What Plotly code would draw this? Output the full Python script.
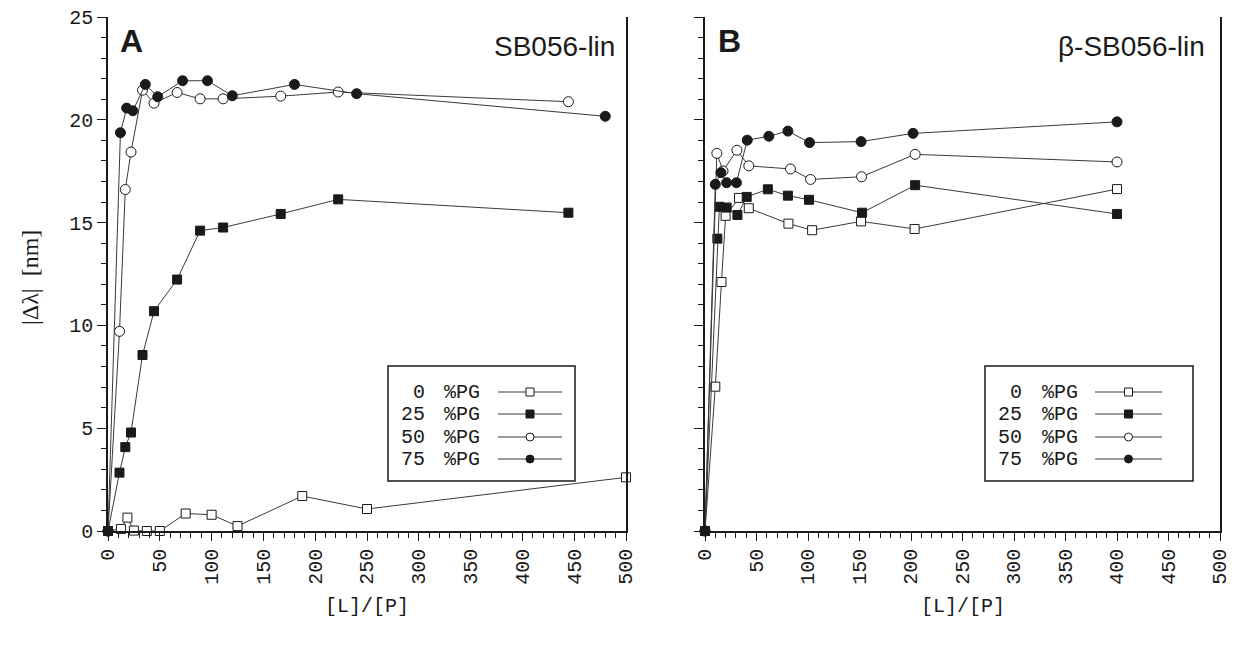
import plotly.graph_objects as go

# Page is 1235x645; the browser body adds an 8 px margin, so the figure is
# offset by 8 px and all layout positions are given in page pixels.
W, H = 1235, 645
OFF = 8
FW, FH = W - OFF, H - 2 * OFF

# ---------------- data ----------------
series_labels = ["0", "25", "50", "75"]

# Panel A : SB056-lin
x0A = [0, 12.5, 18.75, 25, 37.5, 50, 75, 100, 125, 187.5, 250, 500]
y0A = [0, 0.1, 0.65, 0.02, 0.0, 0.0, 0.85, 0.79, 0.24, 1.70, 1.07, 2.61]
x25A = [0, 11.1, 16.7, 22.2, 33.3, 44.4, 66.7, 88.9, 111.1, 166.7, 222.2, 444.4]
y25A = [0, 2.84, 4.08, 4.79, 8.56, 10.69, 12.23, 14.61, 14.76, 15.42, 16.13, 15.48]
x50A = [0, 11.1, 16.7, 22.2, 33.3, 44.4, 66.7, 88.9, 111.1, 166.7, 222.2, 444.4]
y50A = [0, 9.71, 16.61, 18.43, 21.44, 20.81, 21.33, 21.02, 21.02, 21.15, 21.35, 20.88]
x75A = [0, 12, 18, 24, 36, 48, 72, 96, 120, 180, 240, 480]
y75A = [0, 19.37, 20.57, 20.44, 21.72, 21.12, 21.9, 21.9, 21.17, 21.72, 21.27, 20.17]

# Panel B : beta-SB056-lin
x0B = [0, 10, 16, 20, 33, 42.5, 81, 104, 151.5, 203.5, 400]
y0B = [0, 7.02, 12.11, 15.33, 16.2, 15.7, 14.95, 14.63, 15.06, 14.69, 16.63]
x25B = [0, 12, 14, 21, 31.5, 40.5, 61, 80.5, 101, 152.5, 204, 400]
y25B = [0, 14.22, 15.77, 15.73, 15.37, 16.25, 16.62, 16.31, 16.11, 15.48, 16.82, 15.42]
x50B = [0, 11.5, 17.5, 31, 42.5, 83, 102.5, 152, 204, 400]
y50B = [0, 18.37, 17.51, 18.52, 17.76, 17.61, 17.1, 17.23, 18.32, 17.95]
x75B = [0, 10, 15.5, 21, 30.5, 41, 62, 80.5, 101.5, 151.5, 202, 400]
y75B = [0, 16.86, 17.43, 16.94, 16.94, 19.01, 19.2, 19.45, 18.89, 18.94, 19.34, 19.9]

x_ticks = [0, 50, 100, 150, 200, 250, 300, 350, 400, 450, 500]
y_ticks = [0, 5, 10, 15, 20, 25]

# ---------------- styles ----------------
MONO = "Liberation Mono, Courier New, monospace"
SANS = "Liberation Sans, Arial, sans-serif"
SERIF = "Liberation Serif, Times New Roman, serif"
INK = "#1a1a1a"
LINE = "#3a3a3a"

styles = [
    dict(symbol="square", color="white", size=9),
    dict(symbol="square", color=INK, size=9),
    dict(symbol="circle", color="white", size=10),
    dict(symbol="circle", color=INK, size=10),
]


def px(x):
    return (x - OFF) / FW


def py(y):
    return 1 - (y - OFF) / FH


fig = go.Figure()

panelA = [(x0A, y0A), (x25A, y25A), (x50A, y50A), (x75A, y75A)]
panelB = [(x0B, y0B), (x25B, y25B), (x50B, y50B), (x75B, y75B)]

for (xa, ya), (xb, yb), st, lab in zip(panelA, panelB, styles, series_labels):
    for xs, ys, xr, yr in [(xa, ya, "x", "y"), (xb, yb, "x2", "y2")]:
        fig.add_trace(go.Scatter(
            x=xs, y=ys, xaxis=xr, yaxis=yr, mode="lines+markers",
            name=lab + " %PG", showlegend=False, cliponaxis=False,
            line=dict(color=LINE, width=1),
            marker=dict(symbol=st["symbol"], size=st["size"], color=st["color"],
                        line=dict(color=INK, width=1)),
        ))

common_x = dict(
    range=[0, 500], tickvals=x_ticks, ticktext=[str(t) for t in x_ticks],
    tickangle=-90, tickfont=dict(family=MONO, size=20, color=INK),
    showline=True, linecolor=INK, linewidth=1.6, mirror=False,
    ticks="outside", ticklen=8, tickwidth=1.3, tickcolor=INK,
    minor=dict(ticks="outside", ticklen=5, tickwidth=1, tickcolor=INK, dtick=10),
    showgrid=False, zeroline=False, automargin=False, ticklabeloverflow="allow",
)
common_y = dict(
    range=[0, 25], tickvals=y_ticks, ticktext=[str(t) for t in y_ticks],
    tickfont=dict(family=MONO, size=20, color=INK),
    showline=True, linecolor=INK, linewidth=1.6, mirror=True,
    ticks="outside", ticklen=9, tickwidth=1.3, tickcolor=INK,
    minor=dict(ticks="outside", ticklen=5, tickwidth=1, tickcolor=INK, dtick=1),
    showgrid=False, zeroline=False, automargin=False, ticklabeloverflow="allow",
)

ydom = [py(531), py(17)]
fig.update_layout(
    width=FW, height=FH,
    margin=dict(l=0, r=0, t=0, b=0, pad=0, autoexpand=False),
    paper_bgcolor="white", plot_bgcolor="white",
    showlegend=False,
    xaxis=dict(domain=[px(108), px(626)], anchor="y", **common_x),
    yaxis=dict(domain=ydom, anchor="x", **common_y),
    xaxis2=dict(domain=[px(705), px(1220)], anchor="y2", **common_x),
    yaxis2=dict(domain=ydom, anchor="x2", showticklabels=False, **common_y),
)

ann = []
shapes = []


def text(xp, yp, s, font, xanchor="center", angle=0):
    ann.append(dict(x=px(xp), y=py(yp), xref="paper", yref="paper", text=s,
                    xanchor=xanchor, yanchor="middle", textangle=angle,
                    showarrow=False, font=font))


# panel letters and titles
text(132, 41, "<b>A</b>", dict(family=SANS, size=32, color=INK))
text(617, 46, "SB056-lin", dict(family=SANS, size=28, color=INK), xanchor="right")
text(729, 41, "<b>B</b>", dict(family=SANS, size=32, color=INK))
text(1207, 46, "β-SB056-lin", dict(family=SANS, size=28, color=INK), xanchor="right")

# axis titles
text(30, 278, "|Δλ|  [nm]", dict(family=SERIF, size=24, color=INK), angle=-90)
for cx in (367, 963):
    text(cx, 606, "[L]/[P]", dict(family=MONO, size=20, color=INK))

# legends (drawn as boxes with sample line + marker on the right)
row_y = [392, 414, 437, 459]
for left, right, num_r, pg_l, l0, l1 in [(388, 575, 427, 442, 498, 562),
                                         (985, 1193, 1024, 1040, 1095, 1162)]:
    shapes.append(dict(type="rect", xref="paper", yref="paper",
                       x0=px(left), x1=px(right), y0=py(481), y1=py(366),
                       line=dict(color=INK, width=1.5), fillcolor="white", layer="above"))
    for ry, st, lab in zip(row_y, styles, series_labels):
        text(num_r, ry, lab, dict(family=MONO, size=20, color=INK), xanchor="right")
        text(pg_l, ry, "%PG", dict(family=MONO, size=20, color=INK), xanchor="left")
        shapes.append(dict(type="line", xref="paper", yref="paper",
                           x0=px(l0), x1=px(l1), y0=py(ry), y1=py(ry),
                           line=dict(color=LINE, width=1), layer="above"))
        mx = (l0 + l1) / 2
        r = 4
        shapes.append(dict(type="rect" if st["symbol"] == "square" else "circle",
                           xref="paper", yref="paper",
                           x0=px(mx - r), x1=px(mx + r), y0=py(ry + r), y1=py(ry - r),
                           line=dict(color=INK, width=1), fillcolor=st["color"],
                           layer="above"))

fig.update_layout(annotations=ann, shapes=shapes)
fig.write_html("out.html")
